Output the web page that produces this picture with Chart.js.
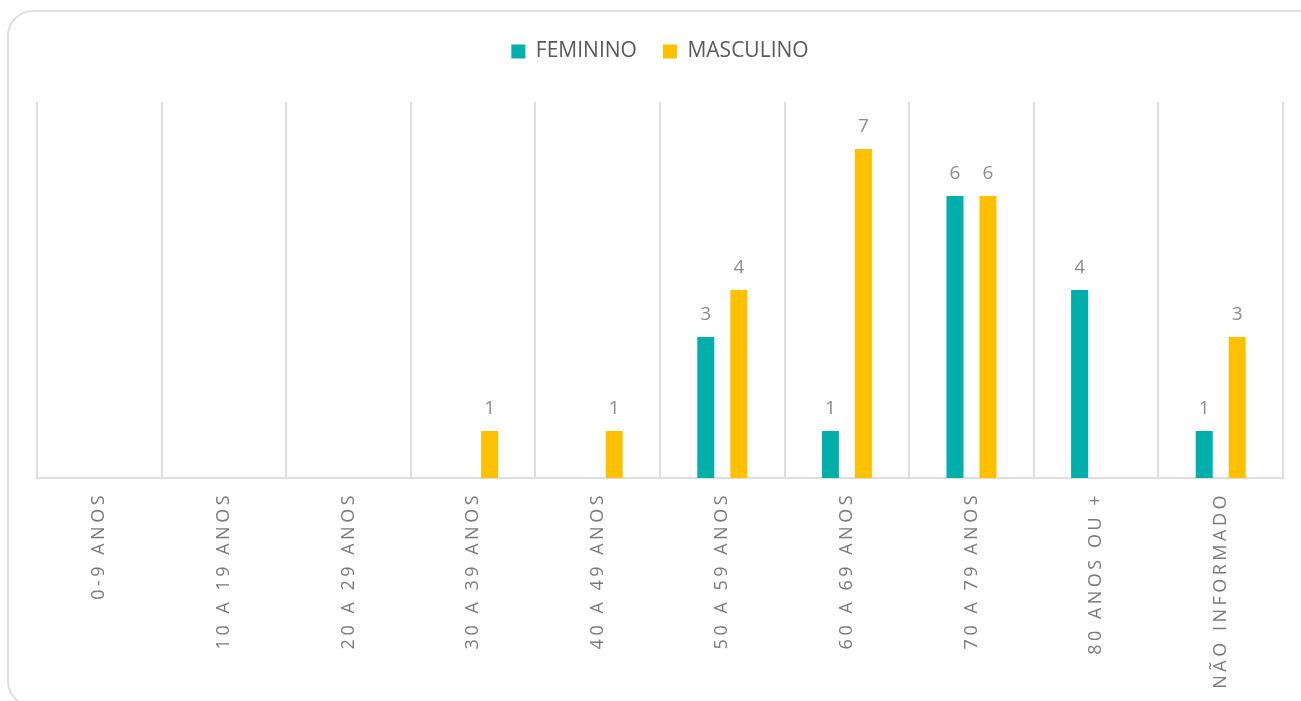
<!DOCTYPE html>
<html lang="pt">
<head>
<meta charset="utf-8">
<title>Faixa etária por sexo</title>
<script src="https://cdn.jsdelivr.net/npm/chart.js@4/dist/chart.umd.min.js"></script>
<style>
    html, body { margin: 0; padding: 0; background: #fff; overflow: hidden; }
    #wrap { position: relative; width: 1301px; height: 701px; overflow: hidden; }
    #frame {
        position: absolute; left: 7px; top: 10px; width: 1320px; height: 697px;
        border: 2px solid #dedede; border-radius: 26px; box-sizing: border-box;
    }
    canvas { position: absolute; left: 0; top: 0; }
</style>
</head>
<body>
<div id="wrap">
    <div id="frame"></div>
    <canvas id="chart" width="1301" height="701"></canvas>
</div>
<script>
const categories = [
    "0-9 ANOS", "10 A 19 ANOS", "20 A 29 ANOS", "30 A 39 ANOS", "40 A 49 ANOS",
    "50 A 59 ANOS", "60 A 69 ANOS", "70 A 79 ANOS", "80 ANOS OU +", "NÃO INFORMADO"
];
const feminino  = [0, 0, 0, 0, 0, 3, 1, 6, 4, 1];
const masculino = [0, 0, 0, 1, 1, 4, 7, 6, 0, 3];
const seriesNames = ["FEMININO", "MASCULINO"];
const seriesColors = ["#00AFAA", "#FFC000"];
const yMax = 8;

const FONT = "'Open Sans', 'DejaVu Sans', sans-serif";

// tick labels in the reference are letter-spaced
const spacedTicks = {
    id: "spacedTicks",
    beforeDraw(chart) {
        const sc = chart.scales.x;
        if (sc._spaced) return;
        const orig = sc.drawLabels;
        sc.drawLabels = function (area) {
            this.ctx.save();
            this.ctx.letterSpacing = "3.5px";
            orig.call(this, area);
            this.ctx.restore();
        };
        sc._spaced = true;
    }
};

// value labels above the bars (zero values are left out)
const valueLabels = {
    id: "valueLabels",
    afterDatasetsDraw(chart) {
        const ctx = chart.ctx;
        ctx.save();
        ctx.font = "19px " + FONT;
        ctx.fillStyle = "#8c8c8c";
        ctx.textAlign = "center";
        ctx.textBaseline = "alphabetic";
        chart.data.datasets.forEach((ds, i) => {
            chart.getDatasetMeta(i).data.forEach((bar, j) => {
                const v = ds.data[j];
                if (!v) return;
                ctx.fillText(String(v), bar.x, bar.y - 17);
            });
        });
        ctx.restore();
    }
};

new Chart(document.getElementById("chart"), {
    type: "bar",
    data: {
        labels: categories,
        datasets: [
            { label: seriesNames[0], data: feminino, backgroundColor: seriesColors[0] },
            { label: seriesNames[1], data: masculino, backgroundColor: seriesColors[1] }
        ]
    },
    options: {
        responsive: false,
        animation: false,
        categoryPercentage: 0.53,
        barPercentage: 0.515,
        layout: { padding: { top: 15, left: 37, right: 18, bottom: 0 } },
        plugins: {
            tooltip: { enabled: false },
            legend: {
                position: "top",
                align: "center",
                labels: {
                    boxWidth: 14,
                    boxHeight: 14,
                    padding: 26,
                    color: "#595959",
                    font: { family: FONT, size: 21 }
                }
            }
        },
        scales: {
            x: {
                offset: true,
                grid: { display: true, offset: true, color: "#dedede", lineWidth: 2, drawTicks: false },
                border: { display: true, color: "#dedede", width: 2 },
                ticks: {
                    autoSkip: false,
                    minRotation: 90,
                    maxRotation: 90,
                    padding: 14,
                    color: "#7a7a7a",
                    font: { family: FONT, size: 18 }
                },
                afterFit: s => { s.height = 223; }
            },
            spacer: {
                type: "category",
                position: "top",
                grid: { display: false },
                border: { display: false },
                ticks: { display: false },
                afterFit: s => { s.height = 30; }
            },
            y: { display: false, min: 0, max: yMax }
        }
    },
    plugins: [spacedTicks, valueLabels]
});
</script>
</body>
</html>
